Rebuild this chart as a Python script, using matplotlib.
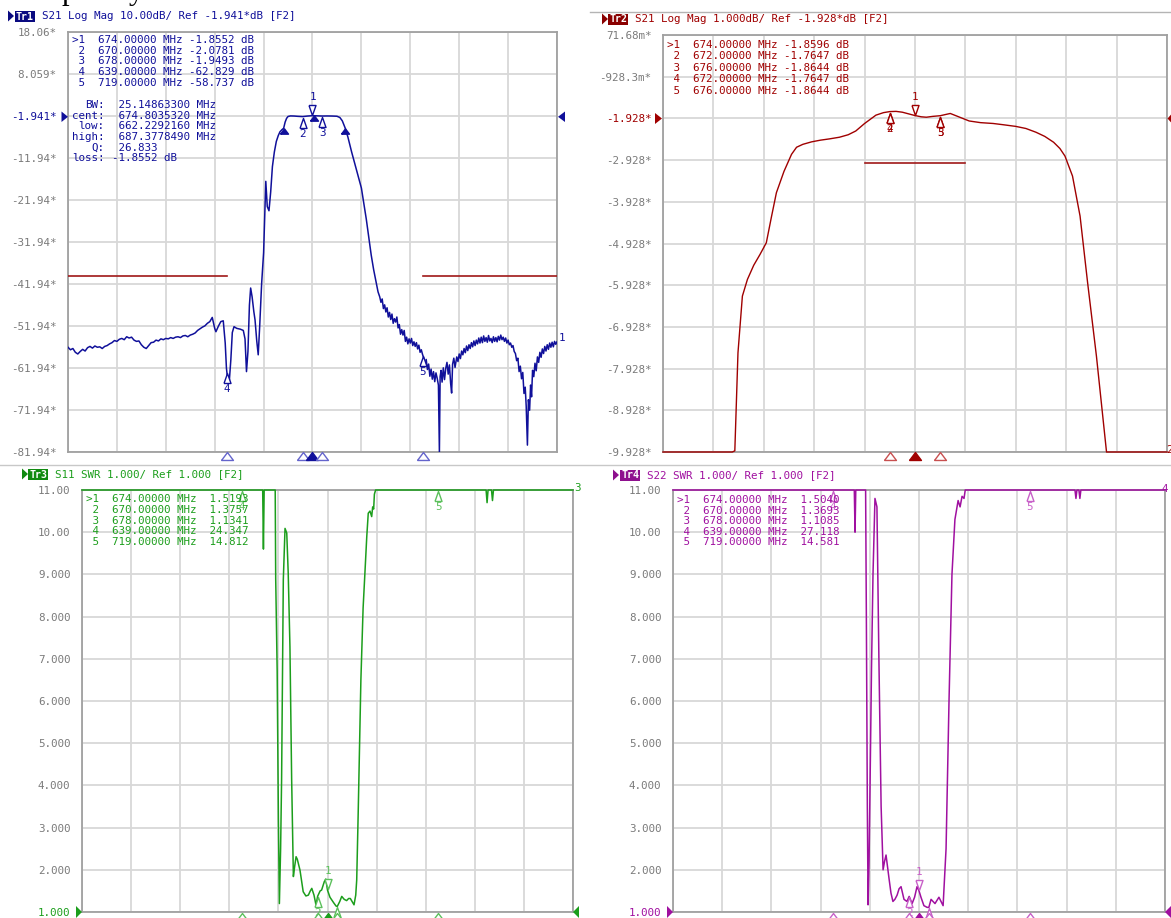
import numpy as np
import matplotlib
matplotlib.use("Agg")
import matplotlib.pyplot as plt
from matplotlib.transforms import offset_copy, blended_transform_factory
from matplotlib.patches import Rectangle, Polygon

# ======================= DATA =======================
# --- Tr1: S21 Log Mag, span 574..774 MHz (dB) ---
tl_freq = [574, 575, 576, 577, 578, 579, 580, 581, 582, 583,
           584, 585, 586, 587, 588, 589, 590, 591, 592, 593,
           594, 595, 596, 597, 598, 599, 600, 601, 602, 603,
           604, 605, 606, 607, 608, 609, 610, 611, 612, 613,
           614, 615, 616, 617, 618, 619, 620, 621, 622, 623,
           624, 625, 626, 627, 628, 629, 630, 631, 632, 633,
           634.0, 634.5, 635.5, 636.5, 637.5, 638.3, 638.8, 639.3, 640.0, 640.6,
           641.2, 641.9, 643.0, 644.5, 645.7, 646.4, 647.0, 647.6, 648.2, 648.7,
           649.3, 650.0, 650.5, 651.2, 651.8, 652.4, 653.2, 654.0, 654.5, 654.9,
           655.5, 656.2, 656.9, 657.6, 658.4, 659.2, 660.0, 660.7, 661.5, 662.2,
           662.8, 663.4, 664.0, 665.0, 666.5, 668.0, 670.0, 672.0, 674.0, 676.0,
           678.0, 680.0, 682.0, 684.0, 685.2, 686.2, 687.4, 688.5, 690.0, 692.0,
           694.0, 696.0, 698.0, 699.0, 700.0, 700.8, 701.5,
           702.0, 702.5, 703.0, 703.5, 704.0, 704.5, 705.0, 705.5, 706.0, 706.5,
           707.0, 707.5, 708.0, 708.5, 709.0, 709.5, 710.0, 710.5, 711.0, 711.5,
           712.0, 712.5, 713.0, 713.5, 714.0, 714.5, 715.0, 715.5, 716.0, 716.5,
           717.0, 717.5, 718.0, 718.5, 719.0, 719.5, 720.0, 720.5, 721.0, 721.5,
           722.0, 722.5, 723.0, 723.5, 724.0, 724.5, 725.0, 725.5, 725.9, 726.2,
           726.6, 727.0, 727.5, 728.0, 728.5, 729.0, 729.5, 730.0, 730.5, 730.9,
           731.3, 731.8, 732.3, 733.0, 733.5, 734.0, 734.5, 735.0, 735.5, 736.0,
           736.5, 737.0, 737.5, 738.0, 738.5, 739.0, 739.5, 740.0, 740.5, 741.0,
           741.5, 742.0, 742.5, 743.0, 743.5, 744.0, 744.5, 745.0, 745.5, 746.0,
           746.5, 747.0, 747.5, 748.0, 748.5, 749.0, 749.5, 750.0, 750.5, 751.0,
           751.5, 752.0, 752.5, 753.0, 753.5, 754.0, 754.5, 755.0, 755.5, 756.0,
           756.5, 757.0, 757.5, 758.0, 758.5, 759.0, 759.5, 760.0, 760.5, 761.0,
           761.4, 761.9, 762.3, 762.8, 763.2, 763.6, 764.0, 764.5, 765.0, 765.5,
           766.0, 766.5, 767.0, 767.5, 768.0, 768.5, 769.0, 769.5, 770.0, 770.5,
           771.0, 771.5, 772.0, 772.5, 773.0, 773.5, 774.0]
tl_db = [-57.0, -57.6, -57.3, -58.2, -58.6, -58.0, -57.5, -57.9, -57.1, -56.8,
         -57.2, -56.7, -57.0, -56.9, -57.3, -56.8, -56.6, -56.2, -55.9, -55.4,
         -55.6, -55.1, -54.9, -55.2, -54.5, -54.8, -54.6, -55.3, -55.6, -55.5,
         -56.4, -57.0, -57.3, -56.6, -55.9, -55.8, -55.3, -55.5, -55.0, -55.2,
         -54.9, -55.0, -54.7, -54.9, -54.6, -54.5, -54.7, -54.3, -54.2, -54.5,
         -54.1, -53.9, -53.6, -53.0, -52.6, -52.2, -51.9, -51.3, -50.9, -49.9,
         -52.5, -53.3, -52.0, -50.9, -50.7, -56.0, -62.0, -64.6, -64.8, -60.0,
         -53.5, -52.1, -52.5, -52.7, -53.0, -55.0, -62.8, -58.0, -47.0, -42.9,
         -45.0, -48.5, -50.5, -55.5, -58.8, -52.0, -41.8, -34.5, -25.0, -17.5,
         -23.5, -24.5, -20.0, -14.0, -10.5, -8.0, -6.6, -5.7, -5.2, -4.86,
         -3.4, -2.5, -2.05, -1.92, -1.95, -2.02, -2.08, -1.95, -1.86, -1.90,
         -1.95, -1.93, -1.95, -2.00, -2.30, -3.10, -4.86, -7.0, -10.5, -14.8,
         -19.1, -26.5, -35.0, -38.5, -41.5, -43.8, -45.0,
         -46.3, -45.5, -47.8, -46.9, -48.6, -47.6, -49.8, -48.7, -50.4, -49.1,
         -51.3, -50.2, -51.0, -49.8, -52.4, -51.6, -53.9, -52.8, -54.1, -53.0,
         -55.6, -54.6, -56.2, -55.0, -56.0, -54.9, -56.6, -55.7, -56.8, -55.9,
         -57.4, -56.5, -58.2, -57.6, -58.7, -59.6, -61.2, -59.9, -62.3, -61.0,
         -63.9, -62.2, -64.6, -62.8, -65.2, -63.1, -64.4, -66.0, -83.0, -64.0,
         -62.5, -65.3, -61.9, -64.7, -62.0, -60.6, -63.4, -61.2, -65.6, -67.9,
         -61.0, -59.6, -61.8, -59.3, -60.4, -58.6, -59.7, -57.9, -58.8, -57.3,
         -58.3, -56.7, -57.8, -56.4, -57.3, -55.9, -56.9, -55.5, -56.6, -55.3,
         -56.2, -54.8, -56.0, -54.6, -55.9, -54.3, -55.6, -54.7, -55.8, -54.2,
         -55.5, -54.9, -55.9, -54.5, -55.6, -54.7, -55.7, -54.4, -55.3, -54.1,
         -55.2, -54.6, -55.6, -54.8, -56.0, -55.3, -56.4, -56.0, -57.0, -56.6,
         -58.0, -58.5, -60.2, -59.6, -62.8, -61.5, -64.5, -63.0, -68.0, -66.5,
         -71.0, -80.3, -69.5, -72.0, -66.0, -68.8, -62.5, -64.0, -60.8, -62.6,
         -59.3, -60.6, -58.2, -59.4, -57.4, -58.5, -56.8, -57.9, -56.4, -57.5,
         -56.0, -57.0, -55.8, -56.9, -55.6, -56.3, -55.7]

# --- Tr2: S21 Log Mag zoom, span 654..694 MHz (dB) ---
tr_freq = [654.0, 659.5, 659.7, 659.95, 660.3, 660.7, 661.2, 661.7, 662.2, 662.6,
           663.0, 663.6, 664.2, 664.6, 665.1, 665.8, 666.5, 667.2, 668.0, 668.7,
           669.3, 670.0, 670.9, 671.5, 672.0, 672.5, 673.0, 673.5, 674.0, 674.5,
           674.9, 675.4, 676.0, 676.5, 676.8, 677.3, 678.3, 679.2, 680.2, 681.0,
           682.0, 682.8, 683.6, 684.3, 685.0, 685.5, 685.9, 686.5, 687.1, 687.7,
           688.4, 689.2, 689.4, 694.0]
tr_db = [-15.0, -15.0, -9.90, -7.55, -6.19, -5.79, -5.45, -5.19, -4.91, -4.30,
         -3.71, -3.20, -2.79, -2.62, -2.55, -2.49, -2.45, -2.42, -2.38, -2.32,
         -2.23, -2.05, -1.85, -1.79, -1.765, -1.76, -1.78, -1.82, -1.86, -1.89,
         -1.90, -1.88, -1.864, -1.83, -1.81, -1.87, -1.99, -2.03, -2.05, -2.08,
         -2.12, -2.17, -2.26, -2.36, -2.50, -2.65, -2.83, -3.31, -4.27, -5.87,
         -7.63, -9.93, -15.0, -15.0]

# --- Tr3: S11 SWR, span 574..774 MHz ---
bl_freq = [574.0, 647.6, 647.9, 648.2, 652.7, 652.9, 653.5, 654.0, 654.4, 654.9,
           655.3, 656.0, 656.7, 657.4, 658.0, 658.7, 659.4, 660.1, 660.6, 661.2,
           661.7, 662.8, 664.1, 665.2, 666.2, 667.0, 667.6, 668.5, 669.3, 670.0,
           671.0, 671.6, 672.7, 673.3, 674.0, 675.0, 676.5, 677.5, 678.0, 679.0,
           679.8, 680.8, 681.8, 682.6, 683.3, 684.0, 684.8, 685.5, 685.9, 686.5,
           687.6, 688.5, 689.3, 690.0, 690.6, 691.3, 692.0, 692.4, 692.8, 693.1,
           693.6, 738.6, 739.0, 739.4, 740.8, 741.2, 741.6, 774.0]
bl_swr = [25, 25, 9.6, 25, 25, 8.9, 6.7, 3.2, 1.2, 2.5,
          4.13, 8.87, 10.09, 9.98, 9.03, 7.29, 4.13, 1.84, 2.07, 2.31,
          2.25, 1.99, 1.48, 1.38, 1.40, 1.50, 1.56, 1.40, 1.17, 1.376,
          1.50, 1.52, 1.72, 1.78, 1.519, 1.35, 1.22, 1.14, 1.134, 1.25,
          1.37, 1.30, 1.27, 1.32, 1.32, 1.25, 1.17, 1.40, 1.76, 3.34,
          6.5, 8.2, 9.1, 9.9, 10.45, 10.5, 10.37, 10.6, 10.55, 10.9,
          25, 25, 10.7, 25, 25, 10.75, 25, 25]

# --- Tr4: S22 SWR, span 574..774 MHz ---
br_freq = [574.0, 647.7, 648.0, 648.3, 652.3, 652.6, 653.0, 653.3, 653.7, 654.1,
           654.7, 655.3, 656.1, 656.9, 657.7, 658.6, 659.4, 660.0, 660.6, 661.8,
           662.6, 663.4, 664.2, 665.1, 665.9, 666.7, 667.9, 669.1, 670.0, 671.2,
           672.2, 673.2, 674.0, 674.8, 676.0, 677.3, 678.0, 678.9, 680.5, 682.1,
           683.8, 685.0, 686.2, 687.4, 688.6, 689.9, 690.7, 691.5, 692.3, 692.8,
           737.4, 737.8, 738.2, 739.0, 739.4, 739.8, 774.0]
br_swr = [25, 25, 10.0, 25, 25, 8.0, 3.5, 1.17, 2.2, 4.0,
          6.8, 9.0, 10.8, 10.6, 7.0, 3.5, 2.0, 2.2, 2.35, 1.8,
          1.45, 1.25, 1.30, 1.40, 1.55, 1.60, 1.30, 1.25, 1.369, 1.20,
          1.35, 1.60, 1.504, 1.35, 1.15, 1.11, 1.1085, 1.30, 1.20, 1.35,
          1.15, 2.5, 6.0, 9.0, 10.3, 10.75, 10.6, 10.85, 10.8, 25,
          25, 10.8, 25, 25, 10.8, 25, 25]

# --- marker tables ---
tl_mk_freq = [674, 670, 678, 639, 719]
tl_mk_val = [-1.8552, -2.0781, -1.9493, -62.829, -58.737]
tr_mk_freq = [674, 672, 676, 672, 676]
tr_mk_val = [-1.8596, -1.7647, -1.8644, -1.7647, -1.8644]
bl_mk_freq = [674, 670, 678, 639, 719]
bl_mk_val = [1.5193, 1.3757, 1.1341, 24.347, 14.812]
br_mk_freq = [674, 670, 678, 639, 719]
br_mk_val = [1.5040, 1.3693, 1.1085, 27.118, 14.581]

tl_bw_labels = ["BW:", "cent:", "low:", "high:", "Q:", "loss:"]
tl_bw_values = [" 25.14863300 MHz", " 674.8035320 MHz", " 662.2292160 MHz",
                " 687.3778490 MHz", " 26.833", "-1.8552 dB"]
tl_bw_freq = [662.2292, 674.8035, 687.3778]
tl_bw_db = [-4.8552, -1.8552, -4.8552]

tl_limit_segments = [(574, 639), (719, 774)]
tl_limit_db = -40.0
tr_limit_segments = [(670, 678)]
tr_limit_db = -3.0

tl_ylabels = ["18.06*", "8.059*", "-1.941*", "-11.94*", "-21.94*", "-31.94*",
              "-41.94*", "-51.94*", "-61.94*", "-71.94*", "-81.94*"]
tr_ylabels = ["71.68m*", "-928.3m*", "-1.928*", "-2.928*", "-3.928*", "-4.928*",
              "-5.928*", "-6.928*", "-7.928*", "-8.928*", "-9.928*"]
swr_ylabels = ["11.00", "10.00", "9.000", "8.000", "7.000", "6.000",
               "5.000", "4.000", "3.000", "2.000", "1.000"]

headers = ["S21 Log Mag 10.00dB/ Ref -1.941*dB [F2]",
           "S21 Log Mag 1.000dB/ Ref -1.928*dB [F2]",
           "S11 SWR 1.000/ Ref 1.000 [F2]",
           "S22 SWR 1.000/ Ref 1.000 [F2]"]
trace_names = ["Tr1", "Tr2", "Tr3", "Tr4"]

# ======================= STYLE =======================
W, H = 1171, 918
MONO = "DejaVu Sans Mono"
FS = 7.8
NAVY, NAVY_L = "#10109a", "#6464cc"
DRED, DRED_L = "#a00000", "#c85050"
GRN, GRN_L = "#1c9e1c", "#5cc05c"
PUR, PUR_L = "#a010a0", "#c860c8"
LIMIT = "#a01818"
TICKC = "#7a7a7a"

fig = plt.figure(figsize=(W / 100, H / 100), dpi=100)
fig.patch.set_facecolor("white")

UP = [(-3.5, -5), (3.5, -5), (0, 5), (-3.5, -5)]
DOWN = [(-3.5, 5), (3.5, 5), (0, -5), (-3.5, 5)]
STIM = [(-6, -4), (6, -4), (0, 4), (-6, -4)]


def make_panel(rect, xlim, ylim, ylabels, ref_idx, refcol):
    x0, y0, x1, y1 = rect
    ax = fig.add_axes([x0 / W, 1 - y1 / H, (x1 - x0) / W, (y1 - y0) / H])
    ax.set_xlim(*xlim)
    ax.set_ylim(*ylim)
    ax.set_xticks(np.linspace(xlim[0], xlim[1], 11))
    ax.set_xticklabels([])
    ax.set_yticks(np.linspace(ylim[1], ylim[0], 11))
    labs = ax.set_yticklabels(ylabels, family=MONO, fontsize=FS, color=TICKC)
    labs[ref_idx].set_color(refcol)
    ax.tick_params(length=0, pad=8.3)
    ax.grid(True, color="#d8d8d8", lw=1.3)
    for s in ax.spines.values():
        s.set_color("#a0a0a0")
        s.set_linewidth(1.3)
    return ax


def trace_marker(ax, f, v, label, color, above):
    if above:
        tr = offset_copy(ax.transData, fig=fig, x=0, y=6, units="dots")
        ax.plot([f], [v], ls="none", marker=DOWN, ms=7.2, mfc="white", mec=color,
                mew=1, transform=tr, clip_on=False, zorder=6)
        ax.annotate(label, (f, v), xytext=(0, 19), textcoords="offset pixels",
                    ha="center", va="center", fontsize=FS, family=MONO, color=color,
                    annotation_clip=False, zorder=6)
    else:
        tr = offset_copy(ax.transData, fig=fig, x=0, y=-6, units="dots")
        ax.plot([f], [v], ls="none", marker=UP, ms=7.2, mfc="white", mec=color,
                mew=1, transform=tr, clip_on=False, zorder=6)
        ax.annotate(label, (f, v), xytext=(0, -17), textcoords="offset pixels",
                    ha="center", va="center", fontsize=FS, family=MONO, color=color,
                    annotation_clip=False, zorder=6)


def stim_markers(ax, freqs, active, light, dark):
    tr = offset_copy(blended_transform_factory(ax.transData, ax.transAxes),
                     fig=fig, x=0, y=-4.5, units="dots")
    for f in sorted(set(freqs)):
        on = (f == active)
        ax.plot([f], [0], ls="none", marker=STIM, ms=8.6,
                mfc=dark if on else "white", mec=dark if on else light,
                mew=1, transform=tr, clip_on=False, zorder=6)


def fmt_val(v):
    return f"{v:.4f}" if abs(v) < 10 else f"{v:.3f}"


# ---------------- Tr1 ----------------
ax1 = make_panel((68, 32, 557, 452), (574, 774), (-81.94, 18.06), tl_ylabels, 2, NAVY)
for a, b in tl_limit_segments:
    ax1.plot([a, b], [tl_limit_db, tl_limit_db], color=LIMIT, lw=1.2, zorder=3)
ax1.plot(tl_freq, np.clip(tl_db, -81.94, 18.06), color=NAVY, lw=1.1, zorder=4)
tr_bw = offset_copy(ax1.transData, fig=fig, x=0, y=-2.5, units="dots")
ax1.plot(tl_bw_freq, tl_bw_db, ls="none", marker=STIM, ms=5.8, mfc=NAVY, mec=NAVY,
         transform=tr_bw, zorder=6)
for i, (f, v) in enumerate(zip(tl_mk_freq, tl_mk_val)):
    trace_marker(ax1, f, v, str(i + 1), NAVY, above=(i == 0))
stim_markers(ax1, tl_mk_freq, tl_mk_freq[0], NAVY_L, NAVY)

# ---------------- Tr2 ----------------
ax2 = make_panel((663, 35, 1167, 452), (654, 694), (-9.928, 0.07168), tr_ylabels, 2, DRED)
for a, b in tr_limit_segments:
    ax2.plot([a, b], [tr_limit_db, tr_limit_db], color=LIMIT, lw=1.2, zorder=3)
ax2.plot(tr_freq, np.clip(tr_db, -9.928, 0.07168), color=DRED, lw=1.0, zorder=4,
         clip_on=False)
for i, (f, v) in enumerate(zip(tr_mk_freq, tr_mk_val)):
    trace_marker(ax2, f, v, str(i + 1), DRED, above=(i == 0))
stim_markers(ax2, tr_mk_freq, tr_mk_freq[0], DRED_L, DRED)

# ---------------- Tr3 ----------------
ax3 = make_panel((82, 490, 573, 912), (574, 774), (1.0, 11.0), swr_ylabels, 10, GRN)
ax3.plot(bl_freq, np.clip(bl_swr, 1.0, 11.0), color=GRN, lw=1.1, zorder=4, clip_on=False)
for i, (f, v) in enumerate(zip(bl_mk_freq, bl_mk_val)):
    trace_marker(ax3, f, min(v, 11.0), str(i + 1), GRN_L, above=(i == 0))
stim_markers(ax3, bl_mk_freq, bl_mk_freq[0], GRN_L, GRN)

# ---------------- Tr4 ----------------
ax4 = make_panel((673, 490, 1165, 912), (574, 774), (1.0, 11.0), swr_ylabels, 10, PUR)
ax4.plot(br_freq, np.clip(br_swr, 1.0, 11.0), color=PUR, lw=1.1, zorder=4, clip_on=False)
for i, (f, v) in enumerate(zip(br_mk_freq, br_mk_val)):
    trace_marker(ax4, f, min(v, 11.0), str(i + 1), PUR_L, above=(i == 0))
stim_markers(ax4, br_mk_freq, br_mk_freq[0], PUR_L, PUR)

# ======================= OVERLAY (pixel coords) =======================
ov = fig.add_axes([0, 0, 1, 1], zorder=20)
ov.set_xlim(0, W)
ov.set_ylim(H, 0)
ov.axis("off")
ov.patch.set_alpha(0)

# separators
ov.plot([590, W], [11.5, 11.5], color="#b4b4b4", lw=1)
ov.plot([0, W], [464.5, 464.5], color="#c8c8c8", lw=1)

# headers
hdr_pos = [(8, 15, 42, 16), (602, 608, 635, 19), (22, 28, 55, 474), (613, 620, 647, 475)]
hdr_col = [(NAVY, "#0a0a80"), (DRED, "#8a0000"), (GRN, "#108a10"), (PUR, "#8e108e")]
for (ax_, bx, tx, yc), (tc, bc), name, htxt in zip(hdr_pos, hdr_col, trace_names, headers):
    ov.add_patch(Polygon([(ax_, yc - 5.5), (ax_, yc + 5.5), (ax_ + 6, yc)], closed=True,
                         color=bc, lw=0))
    ov.add_patch(Rectangle((bx, yc - 5.5), 20, 11, color=bc, lw=0))
    ov.text(bx + 10, yc + 0.5, name, ha="center", va="center", family=MONO,
            fontsize=7.2, fontweight="bold", color="white")
    ov.text(tx, yc, htxt, ha="left", va="center", family=MONO, fontsize=FS, color=tc)

# marker tables
tables = [(72, 40, 10.7, tl_mk_freq, tl_mk_val, " dB", NAVY),
          (667, 45, 11.4, tr_mk_freq, tr_mk_val, " dB", DRED),
          (86, 499.5, 10.6, bl_mk_freq, bl_mk_val, "", GRN),
          (677, 500, 10.6, br_mk_freq, br_mk_val, "", PUR)]
for x, y, dy, fr, vals, unit, col in tables:
    for i, (f, v) in enumerate(zip(fr, vals)):
        lead = ">" if i == 0 else " "
        sep = " " if unit else "  "
        line = f"{lead}{i + 1}  {f:.5f} MHz{sep}{fmt_val(v):>{7 if unit else 6}}{unit}"
        ov.text(x, y + i * dy, line, ha="left", va="center", family=MONO,
                fontsize=FS, color=col)

# bandwidth block
for i, (lab, val) in enumerate(zip(tl_bw_labels, tl_bw_values)):
    yy = 105 + i * 10.66
    ov.text(104.5, yy, lab, ha="right", va="center", family=MONO, fontsize=FS, color=NAVY)
    ov.text(112, yy, val, ha="left", va="center", family=MONO, fontsize=FS, color=NAVY)

# reference-level arrows
refs = [([(61.5, 111.5), (61.5, 122), (68, 116.8)], NAVY),
        ([(565, 111.5), (565, 122), (558, 116.8)], NAVY),
        ([(655, 113), (655, 124), (662, 118.5)], DRED),
        ([(1172, 113.5), (1172, 123.5), (1167.5, 118.5)], DRED),
        ([(76, 906), (76, 918), (82, 912)], GRN),
        ([(579, 906), (579, 918), (573, 912)], GRN),
        ([(667, 906), (667, 918), (673, 912)], PUR),
        ([(1171, 906), (1171, 918), (1165, 912)], PUR)]
for pts, col in refs:
    ov.add_patch(Polygon(pts, closed=True, color=col, lw=0))

# trace-end labels
for x, y, s, col in [(559, 338, "1", NAVY), (1166, 450, "2", DRED),
                     (574, 488, "3", GRN), (1162, 489, "4", PUR)]:
    ov.text(x, y, s, ha="left", va="center", family=MONO, fontsize=FS, color=col)

# cropped caption descenders from the source document
fig.text(62 / W, 1 + 1 / H, "p", family="Liberation Serif", fontsize=22,
         va="baseline", ha="left", color="black")
fig.text(129 / W, 1 + 1 / H, "y", family="Liberation Serif", fontsize=22,
         va="baseline", ha="left", color="black")

fig.savefig("out.png", dpi=100, facecolor="white")
